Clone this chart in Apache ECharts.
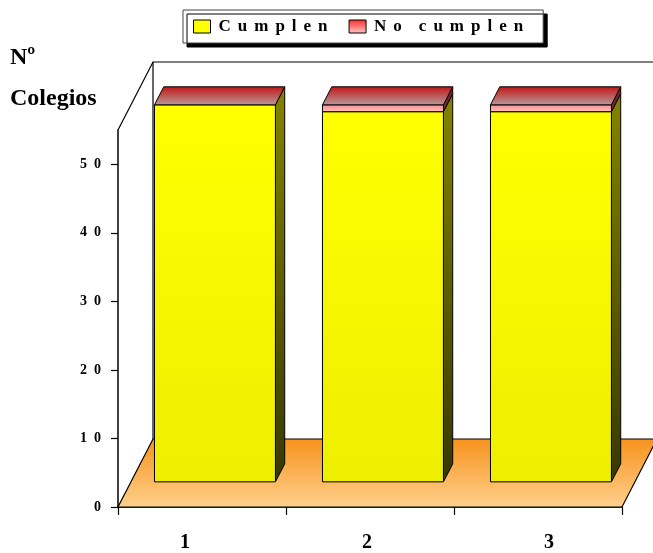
<!DOCTYPE html>
<html>
<head>
<meta charset="utf-8">
<script src="https://cdn.jsdelivr.net/npm/echarts@6/dist/echarts.min.js"></script>
<style>
  html, body { margin: 0; padding: 0; background: #fff; }
  #chart { width: 653px; height: 553px; }
</style>
</head>
<body>
<div id="chart"></div>
<script>
// Number of schools per group
const categories = ['1', '2', '3'];
const cumplen = [55, 54, 54];
const noCumplen = [0, 1, 1];
const yTicks = [0, 10, 20, 30, 40, 50];
const seriesNames = ['Cumplen', 'No cumplen'];

const FONT = '"Liberation Serif", "Times New Roman", serif';
// Depth vector of the floor (back edge relative to front edge), pixels
const DEPTH = { dx: 35, dy: -68 };
const BAR_FRONT = 0.37;   // depth fraction of a bar's front face
const BAR_DEPTH = 0.265;  // depth fraction occupied by a bar
const BAR_WIDTH = 0.72;   // share of the category band

const grad = (c0, c1) => new echarts.graphic.LinearGradient(0, 0, 0, 1, [
  { offset: 0, color: c0 }, { offset: 1, color: c1 }
]);

// Letter-spaced legend text: one rich token per letter
const legendText = name => {
  const words = name.split(' ');
  return words.map((w, wi) => w.split('').map((ch, ci) => {
    const lastInWord = ci === w.length - 1;
    const key = lastInWord ? (wi === words.length - 1 ? 'e' : 'w') : 'c';
    return '{' + key + '|' + ch + '}';
  }).join('')).join('');
};
const legendFont = { fontFamily: FONT, fontWeight: 'bold', fontSize: 17, color: '#000' };
const tickText = v => String(v).split('').join('\u2002');

// Stacked segments: [category index, start, end]
const yellowData = categories.map((c, i) => [i, 0, cumplen[i]]);
const redData = categories.map((c, i) => [i, cumplen[i], cumplen[i] + noCumplen[i]]);

function boxRenderer(faces, withTop) {
  return function (params, api) {
    const i = api.value(0);
    const pBase = api.coord([i, api.value(1)]);
    const pTop = api.coord([i, api.value(2)]);
    const bw = api.size([1, 0])[0] * BAR_WIDTH;
    const fdx = DEPTH.dx * BAR_FRONT, fdy = DEPTH.dy * BAR_FRONT;
    const bdx = DEPTH.dx * BAR_DEPTH, bdy = DEPTH.dy * BAR_DEPTH;
    const xl = pBase[0] - bw / 2 + fdx, xr = pBase[0] + bw / 2 + fdx;
    const yb = pBase[1] + fdy, yt = pTop[1] + fdy;
    const line = { stroke: '#000', lineWidth: 1, lineJoin: 'round' };
    const children = [];
    if (yb - yt > 0.1) {
      children.push({
        type: 'polygon',
        shape: { points: [[xr, yt], [xr + bdx, yt + bdy], [xr + bdx, yb + bdy], [xr, yb]] },
        style: Object.assign({ fill: grad(faces.side[0], faces.side[1]) }, line)
      });
      children.push({
        type: 'rect',
        shape: { x: xl, y: yt, width: xr - xl, height: yb - yt },
        style: Object.assign({ fill: grad(faces.front[0], faces.front[1]) }, line)
      });
    }
    if (withTop) {
      children.push({
        type: 'polygon',
        shape: { points: [[xl, yt], [xr, yt], [xr + bdx, yt + bdy], [xl + bdx, yt + bdy]] },
        style: Object.assign({ fill: grad(faces.top[0], faces.top[1]) }, line)
      });
    }
    return { type: 'group', children: children };
  };
}

// Floor and walls of the 3D box
function frameRenderer(params, api) {
  const cs = params.coordSys;
  const x0 = cs.x, x1 = cs.x + cs.width, yTop = cs.y, yBot = cs.y + cs.height;
  const line = { stroke: '#000', lineWidth: 1.2, fill: null };
  return {
    type: 'group',
    children: [
      {
        type: 'polygon',
        shape: { points: [[x0, yBot], [x1, yBot], [x1 + DEPTH.dx, yBot + DEPTH.dy], [x0 + DEPTH.dx, yBot + DEPTH.dy]] },
        style: { fill: grad('#f7921c', '#ffd18e'), stroke: '#000', lineWidth: 1.2 }
      },
      { type: 'polyline', shape: { points: [[x0, yTop], [x0 + DEPTH.dx, yTop + DEPTH.dy], [x1 + DEPTH.dx, yTop + DEPTH.dy]] }, style: line },
      { type: 'line', shape: { x1: x0 + DEPTH.dx, y1: yTop + DEPTH.dy, x2: x0 + DEPTH.dx, y2: yBot + DEPTH.dy }, style: line }
    ]
  };
}

const yellowFaces = { front: ['#ffff00', '#eeee00'], side: ['#848400', '#383800'], top: ['#ffff66', '#eeee00'] };
const redFaces = { front: ['#ff8a8a', '#ffc4c4'], side: ['#8a2020', '#6a3030'], top: ['#c21616', '#b89a9a'] };

const chart = echarts.init(document.getElementById('chart'), null, { renderer: 'canvas' });
chart.setOption({
  animation: false,
  backgroundColor: '#fff',
  grid: { left: 118, right: 31, top: 130, bottom: 44, containLabel: false },
  legend: {
    left: 183, top: 10,
    padding: [8, 20, 8, 10],
    itemGap: 21,
    itemWidth: 17, itemHeight: 13,
    backgroundColor: '#fff',
    borderColor: '#444', borderWidth: 1,
    shadowColor: '#000', shadowBlur: 0, shadowOffsetX: 4, shadowOffsetY: 4,
    icon: 'rect',
    data: [
      { name: seriesNames[0], itemStyle: { color: '#ffff00', borderColor: '#000', borderWidth: 1 } },
      { name: seriesNames[1], itemStyle: { color: grad('#ff2a2a', '#ffc8c8'), borderColor: '#000', borderWidth: 1 } }
    ],
    formatter: legendText,
    textStyle: Object.assign({
      padding: [0, 0, 0, 3],
      rich: {
        c: Object.assign({ padding: [0, 7, 0, 0] }, legendFont),
        w: Object.assign({ padding: [0, 17, 0, 0] }, legendFont),
        e: Object.assign({}, legendFont)
      }
    }, legendFont)
  },
  graphic: [
    { type: 'text', left: 10, top: 46, style: { text: 'Nº', font: 'bold 24px ' + FONT, fill: '#000' } },
    { type: 'text', left: 10, top: 87, style: { text: 'Colegios', font: 'bold 24px ' + FONT, fill: '#000' } }
  ],
  xAxis: {
    type: 'category',
    data: categories,
    axisLine: { lineStyle: { color: '#000', width: 1.5 } },
    axisTick: { show: true, length: 8, lineStyle: { color: '#000', width: 1.2 } },
    axisLabel: {
      margin: 26,
      formatter: (v, idx) => '{l' + idx + '|' + v + '}',
      rich: {
        l0: { padding: [0, 34, 0, 0], fontFamily: FONT, fontWeight: 'bold', fontSize: 20, color: '#000' },
        l1: { padding: [0, 6, 0, 0], fontFamily: FONT, fontWeight: 'bold', fontSize: 20, color: '#000' },
        l2: { padding: [0, 0, 0, 22], fontFamily: FONT, fontWeight: 'bold', fontSize: 20, color: '#000' }
      }
    },
    splitLine: { show: false }
  },
  yAxis: {
    type: 'value',
    min: 0, max: 55, interval: 10,
    axisLine: { show: true, lineStyle: { color: '#000', width: 1.5 } },
    axisTick: { show: true, length: 7, customValues: yTicks, lineStyle: { color: '#000', width: 1.2 } },
    axisLabel: {
      margin: 17,
      customValues: yTicks,
      formatter: tickText,
      fontFamily: FONT, fontWeight: 'bold', fontSize: 14, color: '#000'
    },
    splitLine: { show: false }
  },
  series: [
    {
      type: 'custom', name: 'frame', z: 1, silent: true,
      renderItem: frameRenderer,
      data: [[0, 0]]
    },
    {
      type: 'custom', name: seriesNames[0], z: 3,
      itemStyle: { color: '#ffff00' },
      renderItem: boxRenderer(yellowFaces, false),
      encode: { x: 0, y: [1, 2] },
      data: yellowData
    },
    {
      type: 'custom', name: seriesNames[1], z: 4,
      itemStyle: { color: '#ff8080' },
      renderItem: boxRenderer(redFaces, true),
      encode: { x: 0, y: [1, 2] },
      data: redData
    }
  ]
});
</script>
</body>
</html>
